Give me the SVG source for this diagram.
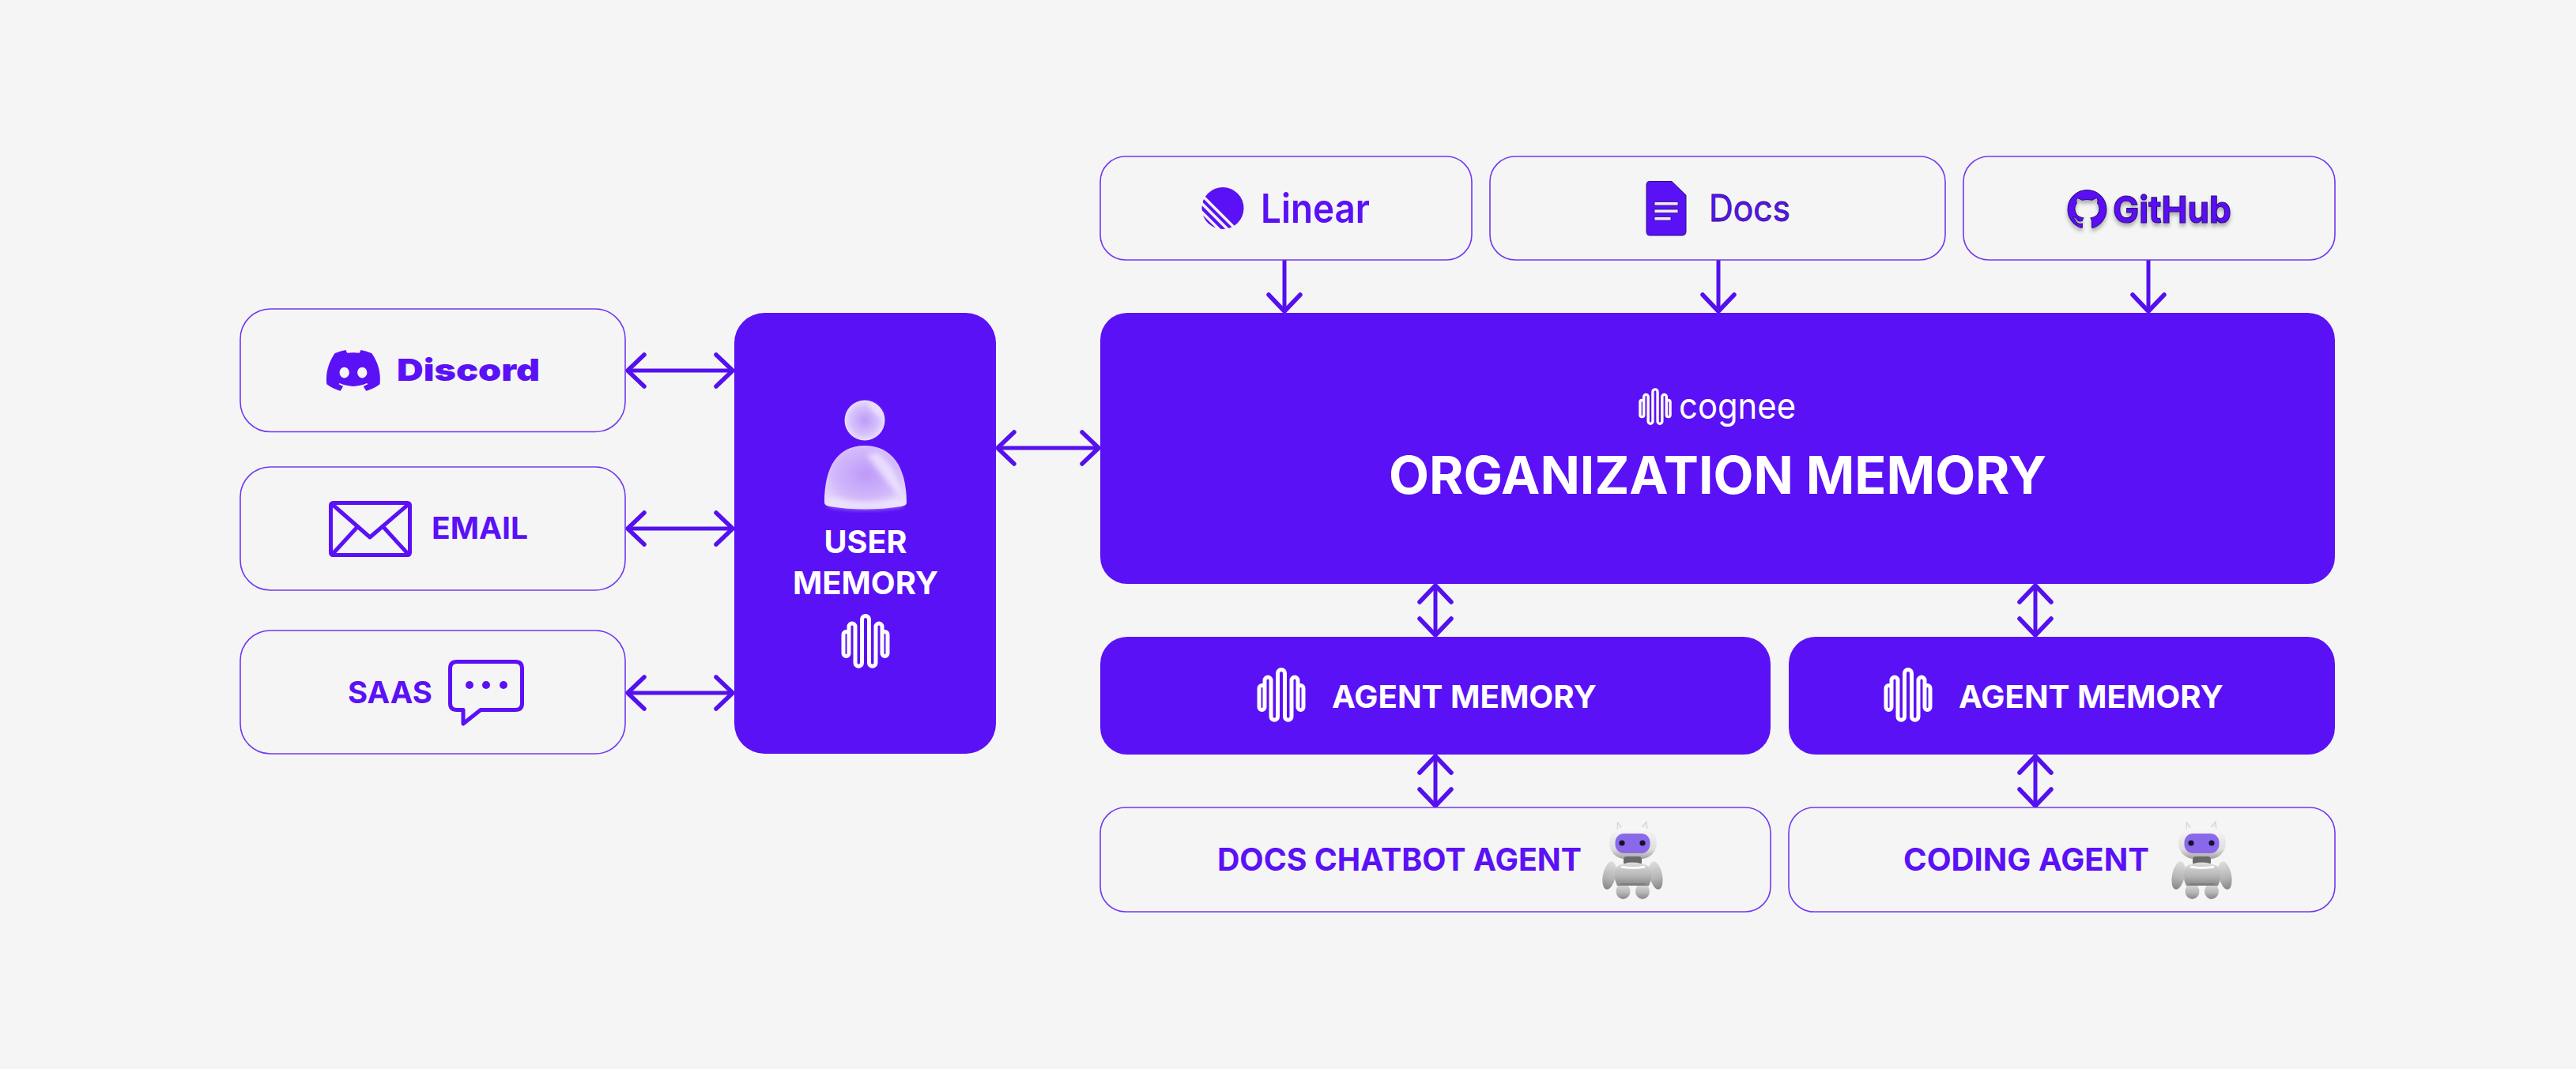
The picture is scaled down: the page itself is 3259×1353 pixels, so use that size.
<svg xmlns="http://www.w3.org/2000/svg" width="3259" height="1353" viewBox="0 0 3259 1353">
<style>
text{font-family:Inter,"Liberation Sans",sans-serif}
.o{fill:#f5f5f5;stroke:#7238f0;stroke-width:1.6}
.f{fill:#5b11f5}
.p{fill:#5b11f5;font-weight:700}
.w{fill:#fff;font-weight:700}
.c{text-anchor:middle}
.a{fill:none;stroke:#5410ee;stroke-width:5}
.ln{fill:none;stroke:#5b11f5;stroke-width:5;stroke-linejoin:round;stroke-linecap:round}
.wv{fill:none;stroke:#fff;stroke-width:5;stroke-linejoin:round}
</style>
<defs>
<marker id="h" markerUnits="userSpaceOnUse" markerWidth="60" markerHeight="60" viewBox="-40 -30 60 60" refX="0" refY="0" orient="auto-start-reverse">
<path d="M-21 -20L0 0L-21 20" fill="none" stroke="#5410ee" stroke-width="5.500" stroke-linecap="round" stroke-linejoin="round"/>
</marker>
<g id="wave"><path class="wv" d="M-21 -9A3.5 3.5 0 0 0 -28 -9V15A3.5 3.5 0 0 0 -21 15V-19A4 4 0 0 1 -13 -19V27A4.25 4.25 0 0 0 -4.5 27V-28A4.5 4.5 0 0 1 4.5 -28V27A4.25 4.25 0 0 0 13 27V-19A4 4 0 0 1 21 -19V15A3.5 3.5 0 0 0 28 15V-9A3.5 3.5 0 0 0 21 -9"/></g>
<radialGradient id="pb" cx=".5" cy=".45" r=".7"><stop offset="0" stop-color="#bd9af8"/><stop offset=".55" stop-color="#d2b8fb"/><stop offset="1" stop-color="#f1e9fe"/></radialGradient>
<radialGradient id="ph" cx=".5" cy=".5" r=".55"><stop offset="0" stop-color="#bd9cf8"/><stop offset=".6" stop-color="#d5c0fb"/><stop offset="1" stop-color="#f0e8fe"/></radialGradient>
<linearGradient id="rb" x1="0" y1="0" x2="0" y2="1"><stop offset="0" stop-color="#dedede"/><stop offset=".6" stop-color="#b4b4b4"/><stop offset="1" stop-color="#868686"/></linearGradient>
<linearGradient id="rh" x1="0" y1="0" x2="0" y2="1"><stop offset="0" stop-color="#f8f8f8"/><stop offset=".7" stop-color="#dedede"/><stop offset="1" stop-color="#a0a0a0"/></linearGradient>
<filter id="bl" x="-30%" y="-30%" width="160%" height="160%"><feGaussianBlur stdDeviation="3"/></filter>
<filter id="sh" x="-10%" y="-20%" width="120%" height="150%"><feDropShadow dx="0" dy="4" stdDeviation="2.5" flood-color="#000" flood-opacity=".3"/></filter>
<g id="robot">
<path d="M2046 1058L2046.5 1041L2054 1051M2085 1058L2083 1040L2074 1051" fill="#efefef" stroke="#d4d4d4" stroke-width="1.2"/>
<rect x="2036" y="1047" width="60" height="40" rx="20" fill="url(#rh)"/>
<rect x="2043.500" y="1055" width="44" height="25" rx="11" fill="#8a68ea"/>
<circle cx="2052" cy="1067" r="3.6" fill="#17122e"/><circle cx="2078" cy="1067" r="3.6" fill="#17122e"/>
<ellipse cx="2036" cy="1108" rx="8" ry="18" transform="rotate(12 2036 1108)" fill="url(#rb)"/>
<ellipse cx="2095" cy="1108" rx="8" ry="18" transform="rotate(-12 2095 1108)" fill="url(#rb)"/>
<ellipse cx="2053.500" cy="1128" rx="9" ry="10" fill="url(#rb)"/><ellipse cx="2078" cy="1128" rx="9" ry="10" fill="url(#rb)"/>
<rect x="2054" y="1084" width="23" height="11" rx="4" fill="#6a6a6a"/>
<path d="M2045 1097Q2065 1086 2087 1097Q2092 1110 2086 1121H2046Q2040 1110 2045 1097Z" fill="url(#rb)"/>
<path d="M2051 1097Q2066 1100 2081 1097" fill="none" stroke="#fff" stroke-width="2.500"/>
<path d="M2050 1119H2082" stroke="#6e6e6e" stroke-width="1"/>
</g>
</defs>
<rect width="3259" height="1353" fill="#f5f5f5"/>

<g id="connectors">
<path class="a" marker-start="url(#h)" marker-end="url(#h)" d="M794 469H927"/>
<path class="a" marker-start="url(#h)" marker-end="url(#h)" d="M794 669H927"/>
<path class="a" marker-start="url(#h)" marker-end="url(#h)" d="M794 877H927"/>
<path class="a" marker-start="url(#h)" marker-end="url(#h)" d="M1262 567H1390"/>
<path class="a" marker-end="url(#h)" d="M1625 329V394"/>
<path class="a" marker-end="url(#h)" d="M2174 329V394"/>
<path class="a" marker-end="url(#h)" d="M2718 329V394"/>
<path class="a" marker-start="url(#h)" marker-end="url(#h)" d="M1816 741V804"/>
<path class="a" marker-start="url(#h)" marker-end="url(#h)" d="M2575 741V804"/>
<path class="a" marker-start="url(#h)" marker-end="url(#h)" d="M1816 957V1020"/>
<path class="a" marker-start="url(#h)" marker-end="url(#h)" d="M2575 957V1020"/>
</g>

<g id="discord"><rect class="o" x="304" y="391" width="487" height="155.500" rx="38"/>
<path class="f" fill-rule="evenodd" transform="translate(413 435) scale(2.83)" d="M20.317 4.3698a19.7913 19.7913 0 00-4.8851-1.5152.0741.0741 0 00-.0785.0371c-.211.3753-.4447.8648-.6083 1.2495-1.8447-.2762-3.68-.2762-5.4868 0-.1636-.3933-.4058-.8742-.6177-1.2495a.077.077 0 00-.0785-.037 19.7363 19.7363 0 00-4.8852 1.515.0699.0699 0 00-.0321.0277C.5334 9.0458-.319 13.5799.0992 18.0578a.0824.0824 0 00.0312.0561c2.0528 1.5076 4.0413 2.4228 5.9929 3.0294a.0777.0777 0 00.0842-.0276c.4616-.6304.8731-1.2952 1.226-1.9942a.076.076 0 00-.0416-.1057c-.6528-.2476-1.2743-.5495-1.8722-.8923a.077.077 0 01-.0076-.1277c.1258-.0943.2517-.1923.3718-.2914a.0743.0743 0 01.0776-.0105c3.9278 1.7933 8.18 1.7933 12.0614 0a.0739.0739 0 01.0785.0095c.1202.099.246.1981.3728.2924a.077.077 0 01-.0066.1276 12.2986 12.2986 0 01-1.873.8914.0766.0766 0 00-.0407.1067c.3604.698.7719 1.3628 1.225 1.9932a.076.076 0 00.0842.0286c1.961-.6067 3.9495-1.5219 6.0023-3.0294a.077.077 0 00.0313-.0552c.5004-5.177-.8382-9.6739-3.5485-13.6604a.061.061 0 00-.0312-.0286zM8.02 15.3312c-1.1825 0-2.1569-1.0857-2.1569-2.419 0-1.3332.9555-2.4189 2.157-2.4189 1.2108 0 2.1757 1.0952 2.1568 2.419 0 1.3332-.9555 2.4189-2.1569 2.4189zm7.9748 0c-1.1825 0-2.1569-1.0857-2.1569-2.419 0-1.3332.9554-2.4189 2.1569-2.4189 1.2108 0 2.1757 1.0952 2.1568 2.419 0 1.3332-.946 2.4189-2.1568 2.4189Z"/>
<text class="p" x="502" y="482" font-size="39" textLength="181" lengthAdjust="spacingAndGlyphs" style="font-weight:900">Discord</text></g>

<g id="email"><rect class="o" x="304" y="591" width="487" height="156" rx="38"/>
<rect class="ln" x="418.500" y="636.500" width="100" height="66" rx="3"/>
<path class="ln" d="M420 638L468 680L517 638M452 667L420 702M485 667L517 702" stroke-width="4.500"/>
<text class="p" x="546" y="682" font-size="38" textLength="122" lengthAdjust="spacingAndGlyphs">EMAIL</text></g>

<g id="saas"><rect class="o" x="304" y="798" width="487" height="156" rx="38"/>
<text class="p" x="440" y="890" font-size="38" textLength="107" lengthAdjust="spacingAndGlyphs">SAAS</text>
<path class="ln" d="M578 837.500H652Q660.500 837.500 660.500 846V890Q660.500 898.500 652 898.500H608L586 916V898.500H578Q569.500 898.500 569.500 890V846Q569.500 837.500 578 837.500Z"/>
<circle class="f" cx="594" cy="867" r="5"/><circle class="f" cx="615" cy="867" r="5"/><circle class="f" cx="637" cy="867" r="5"/></g>

<g id="user-memory"><rect class="f" x="929" y="396" width="331" height="558" rx="38"/>
<path d="M1043 636C1043 590 1060 564 1094 564C1128 564 1147 590 1147 636Q1147 640 1140 641Q1094 648 1050 641Q1043 640 1043 636Z" fill="url(#pb)"/>
<path d="M1110 573Q1136 590 1143 632Q1120 610 1097 575Z" fill="#f3ebff" opacity=".75" filter="url(#bl)"/>
<path d="M1050 630Q1094 640 1140 630L1142 640Q1094 648 1048 640Z" fill="#f3ebff" opacity=".7" filter="url(#bl)"/>
<circle cx="1094" cy="532" r="25.500" fill="url(#ph)"/>
<path d="M1100 510Q1114 518 1117 530Q1106 522 1099 512Z" fill="#fff" opacity=".7" filter="url(#bl)"/>
<text class="w c" x="1095" y="700" font-size="40" textLength="105" lengthAdjust="spacingAndGlyphs">USER</text>
<text class="w c" x="1095" y="752" font-size="40" textLength="184" lengthAdjust="spacingAndGlyphs">MEMORY</text>
<use href="#wave" transform="translate(1095 812)"/></g>

<g id="linear"><rect class="o" x="1392" y="198" width="470" height="131" rx="32"/>
<circle class="f" cx="1547" cy="263.500" r="26.500"/>
<path d="M1516 242.500L1566 292.500M1512 249L1556 293M1512 260L1545 293" stroke="#f5f5f5" stroke-width="3.500" fill="none"/>
<text class="p" x="1595" y="282" font-size="51" textLength="138" lengthAdjust="spacingAndGlyphs" style="font-weight:600">Linear</text></g>

<g id="docs"><rect class="o" x="1885" y="198" width="576" height="131" rx="32"/>
<path class="f" d="M2087 229.500H2115L2133 247V293Q2133 298 2128 298H2087Q2083 298 2083 293V234Q2083 229.500 2087 229.500Z" stroke="#2c1180" stroke-width="1"/>
<g fill="#f1e9fb" stroke="#2c1180" stroke-width=".8"><rect x="2093" y="255.500" width="30" height="4.500"/><rect x="2093" y="265" width="30" height="4.500"/><rect x="2093" y="274.500" width="21" height="4.500"/></g>
<text x="2162" y="280" font-size="46" textLength="103" lengthAdjust="spacingAndGlyphs" fill="#5b11f5" stroke="#2c1180" stroke-width=".8">Docs</text></g>

<g id="github"><rect class="o" x="2484" y="198" width="470" height="131" rx="32"/>
<g filter="url(#sh)"><path class="f" stroke="#2c1180" stroke-width=".5" transform="translate(2616 240) scale(2.04)" d="M12 .297c-6.63 0-12 5.373-12 12 0 5.303 3.438 9.8 8.205 11.385.6.113.82-.258.82-.577 0-.285-.01-1.04-.015-2.04-3.338.724-4.042-1.61-4.042-1.61C4.422 18.07 3.633 17.7 3.633 17.7c-1.087-.744.084-.729.084-.729 1.205.084 1.838 1.236 1.838 1.236 1.07 1.835 2.809 1.305 3.495.998.108-.776.417-1.305.76-1.605-2.665-.3-5.466-1.332-5.466-5.93 0-1.31.465-2.38 1.235-3.22-.135-.303-.54-1.523.105-3.176 0 0 1.005-.322 3.3 1.23.96-.267 1.98-.399 3-.405 1.02.006 2.04.138 3 .405 2.28-1.552 3.285-1.23 3.285-1.23.645 1.653.24 2.873.12 3.176.765.84 1.23 1.91 1.23 3.22 0 4.61-2.805 5.625-5.475 5.92.42.36.81 1.096.81 2.22 0 1.606-.015 2.896-.015 3.286 0 .315.21.69.825.57C20.565 22.092 24 17.592 24 12.297c0-6.627-5.373-12-12-12"/>
<text x="2673" y="282" font-size="47" textLength="150" lengthAdjust="spacingAndGlyphs" fill="#5b11f5" stroke="#2c1180" stroke-width="1.200" style="font-weight:700">GitHub</text></g></g>

<g id="organization-memory"><rect class="f" x="1392" y="396" width="1562" height="343" rx="34"/>
<use href="#wave" transform="translate(2094 515) scale(.68)"/>
<text x="2124" y="530" font-size="46" textLength="148" lengthAdjust="spacingAndGlyphs" fill="#fff" style="font-weight:400">cognee</text>
<text class="w c" x="2173" y="625" font-size="66" textLength="832" lengthAdjust="spacingAndGlyphs">ORGANIZATION MEMORY</text></g>

<g id="agent-memory-1"><rect class="f" x="1392" y="806" width="848" height="149" rx="34"/>
<use href="#wave" transform="translate(1621 880)"/>
<text class="w" x="1685" y="895.500" font-size="40" textLength="335" lengthAdjust="spacingAndGlyphs">AGENT MEMORY</text></g>

<g id="agent-memory-2"><rect class="f" x="2263" y="806" width="691" height="149" rx="34"/>
<use href="#wave" transform="translate(2414 880)"/>
<text class="w" x="2478" y="895.500" font-size="40" textLength="335" lengthAdjust="spacingAndGlyphs">AGENT MEMORY</text></g>

<g id="docs-chatbot-agent"><rect class="o" x="1392" y="1022" width="848" height="132" rx="32"/>
<text class="p" x="1540" y="1102" font-size="39" textLength="461" lengthAdjust="spacingAndGlyphs">DOCS CHATBOT AGENT</text>
<use href="#robot"/></g>

<g id="coding-agent"><rect class="o" x="2263" y="1022" width="691" height="132" rx="32"/>
<text class="p" x="2408" y="1102" font-size="39" textLength="311" lengthAdjust="spacingAndGlyphs">CODING AGENT</text>
<use href="#robot" transform="translate(720 0)"/></g>
</svg>
